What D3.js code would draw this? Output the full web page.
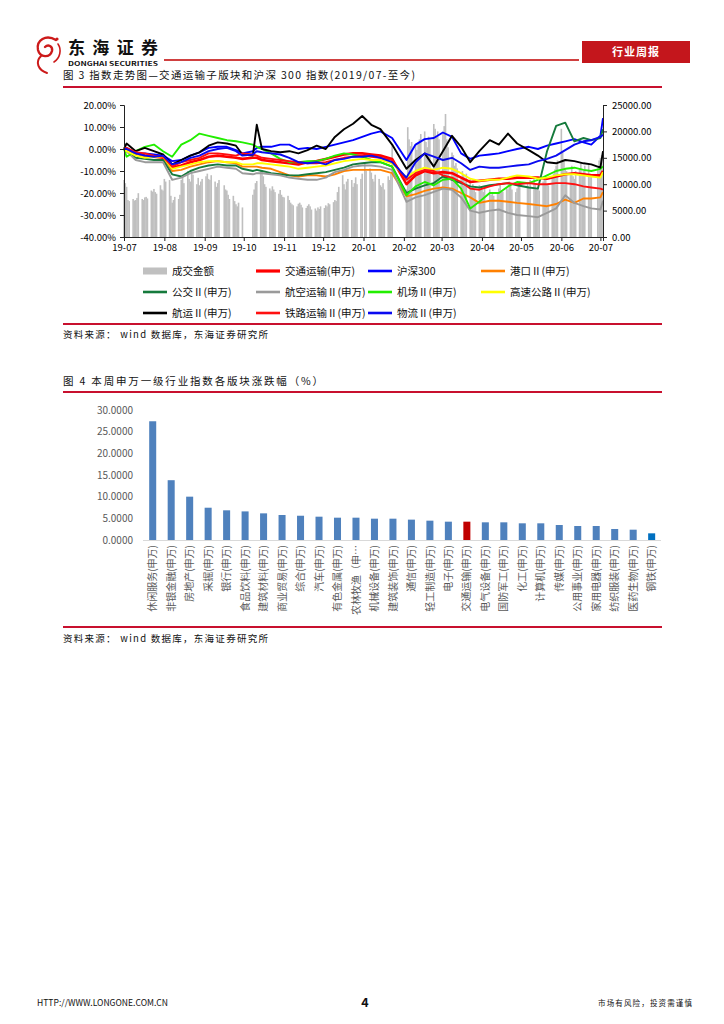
<!DOCTYPE html>
<html><head><meta charset="utf-8">
<script src="https://cdn.jsdelivr.net/npm/d3@7"></script>
<style>
body{margin:0;background:#fff;}
svg{display:block;}
text{font-family:"Noto Sans CJK SC","Liberation Sans",sans-serif;}
</style></head>
<body>
<svg id="page" width="724" height="1024"></svg>
<script>
// ================= DATA: Figure 3 =================
const lineDates = ["2019-07-01","2019-07-03","2019-07-10","2019-07-17","2019-07-24","2019-07-31","2019-08-07","2019-08-14","2019-08-21","2019-08-28","2019-09-04","2019-09-11","2019-09-18","2019-09-25","2019-09-30","2019-10-08","2019-10-11","2019-10-15","2019-10-22","2019-10-29","2019-11-05","2019-11-12","2019-11-19","2019-11-26","2019-12-03","2019-12-10","2019-12-17","2019-12-24","2019-12-31","2020-01-07","2020-01-14","2020-01-23","2020-02-03","2020-02-10","2020-02-17","2020-02-24","2020-03-02","2020-03-09","2020-03-16","2020-03-23","2020-03-30","2020-04-07","2020-04-14","2020-04-21","2020-04-28","2020-05-07","2020-05-14","2020-05-21","2020-05-28","2020-06-04","2020-06-11","2020-06-18","2020-06-24","2020-07-01","2020-07-03"];

const transport = [0,0,-2,-3,-3.5,-4,-8.5,-7.5,-6,-5,-3.5,-3,-3.5,-4,-4.5,-4,-4,-5,-5.5,-6,-6.5,-7,-6,-5.5,-4.5,-3.5,-2.5,-2,-2,-2.5,-3,-4.5,-16,-12,-10,-11,-10.5,-11,-13,-15,-14.5,-14,-13.5,-13.5,-13,-13,-13,-13.5,-12.5,-11.5,-11,-11.5,-12,-12,-10];
const hs300 = [0,0.5,-2,-2,-2.5,-3,-5.5,-5,-3,-1.5,0.5,1,1,-0.5,-2,-1,0.5,1,1,2,2,0,0.5,0,1,2,3,4,5.5,7,8,5,-5,2,4.5,5,7.5,5.5,-2,-4.5,-3,-2.5,-2,-1,0,1,0,1.5,2.5,3.5,4.5,3,2,6,14];
const port = [0,0,-2,-3.5,-3.5,-3.5,-10,-9.5,-8,-7,-6,-5.5,-6,-6.5,-8,-8,-8,-8.5,-9,-10.5,-12,-12.5,-12,-12,-12.5,-11.5,-10,-9.5,-9.5,-9.5,-9.5,-11,-21.5,-20.5,-19,-18,-17.5,-18,-20,-22,-24.5,-23.5,-23.5,-24,-24.5,-25,-25.5,-26,-25,-23,-24.5,-22.5,-22.5,-22,-19.5];
const bus = [0,-1,-4,-4.5,-5,-5,-11.5,-12.5,-10,-8.5,-7.5,-7,-7.5,-7.5,-9,-10,-9.5,-10,-11,-11.5,-12,-12,-11.5,-11,-10.5,-9.5,-8.5,-7,-6.5,-6,-6,-8,-20,-18,-16.5,-15.5,-12.5,-14,-15.5,-17,-17.5,-16.5,-16,-15.5,-16.5,-17.5,-18,-1,10.5,12,3.5,5,4,5,9];
const airline = [0,-1,-5,-6,-6,-6,-14,-13,-11,-10,-9,-8,-8.5,-9,-11,-11.5,-11,-11,-11.5,-12,-13,-13.5,-14,-14,-13,-10.5,-9.5,-8,-7.5,-7.5,-8,-9.5,-24,-22,-21,-19.5,-18,-18.5,-22,-28,-29,-28,-27.5,-29,-30,-30.5,-31,-29,-27,-21,-24.5,-26,-27,-27.5,-23.5];
const airport = [0,-3.5,-1,1,2,-1,-3.5,2,4,7,6,5,4,3.5,3,2,1,0,-2,-4.5,-6,-6,-5.5,-5.5,-4.5,-3,-2,-2.5,-3.5,-5,-6,-8,-21,-17,-15,-16.5,-14,-13.5,-18,-27,-24,-20,-20,-17,-15,-15.5,-14,-12,-10,-9,-8.5,-9.5,-10,-9,-8];
const highway = [0,-1,-3,-4,-3.5,-3.5,-9,-8,-7,-6,-5.5,-5.5,-6,-6,-7,-7,-6.5,-6.5,-7,-7.5,-8,-9,-8.5,-8,-7.5,-6.5,-5.5,-5,-4.5,-5,-5,-6.5,-13,-10,-8.5,-9.5,-8.5,-9,-11,-13.5,-14.5,-14,-14,-13,-12,-12.5,-13.5,-13,-12,-11.5,-11.5,-12,-12.5,-13,-10.5];
const shipping = [0,2.5,-1,0.5,-1,-2.5,-7,-5,-3,-1.5,1.5,3,2.5,1.5,-2.5,-3,11,0,-1,-1.5,-1,-2,-0.5,1.5,0,5.5,9,11.5,15,11,9,2,-9,-5,-2,-8,-1,6,1,-6,-1,4,2,7,2.5,-0.5,-3,-6,-6.5,-5,-5.5,-6.5,-7,-8.5,-1];
const railway = [0,0.5,-1.5,-2,-3,-3.5,-8,-6,-5,-4,-2,-2,-2.5,-3,-2,-2.5,-3,-4,-4.5,-5,-5.5,-6,-6.5,-6.5,-6,-5,-4,-3.5,-3,-3.5,-4,-5,-14,-11,-9.5,-10,-12,-13,-15,-18,-18.5,-17,-16,-15.5,-16,-15.5,-16,-16,-15.5,-15.5,-16,-17,-17.5,-18,-18.5];
const logistics = [0,0,-2,-3,-3.5,-3,-7,-6,-4,-3,-1,0,0.5,-1,-3,-2.5,-1,-1.5,-2,-2.5,-4,-6,-6.5,-6,-7,-5,-4.5,-3.5,-3.5,-3,-4,-6,-13,-6,-2,-3.5,-5,-4,-6.5,-9.5,-8,-8.5,-8.5,-8,-7.5,-7,-5.5,-4.5,-3,-0.5,2,3.5,4,5.5,6.5];

// daily turnover (成交金额), one value per trading day, Jul-2019 .. Jul-2020
const turnover = [
 10800,10200,9500,7000,6800,7200,6900,7000,7400,8300,7200,7000,7500,7600,7300,8800,8600,9100,8500,8200,9800,9000,8800,
 11000,10500,10800,7800,6500,7000,7600,7200,8000,10800,11500,10200,12500,11000,10500,12400,11800,10000,11200,9800,10500,11000,
 11500,12000,11000,10800,11700,10500,9500,10200,10800,9800,9000,8800,8000,7200,7800,6800,6200,5800,6500,5600,
 8000,9000,10200,10600,12700,12400,11500,10000,9500,9200,8800,9600,9000,8500,8200,8900,8000,7600,
 7500,7800,7000,6500,6200,6000,5800,6300,6500,6100,5600,5500,5900,6200,5800,5200,5400,5000,5600,5300,5800,
 5500,6000,5800,6400,6200,6600,7000,6800,8500,9500,11700,10000,9000,10500,11000,10800,9500,10200,11300,10000,11000,12000,
 14000,12500,13000,12200,11000,10500,11800,11000,9800,9500,10200,9000,11500,10800,12000,17500,
 9000,20800,18500,17200,18000,17500,16500,17800,18500,19500,20000,18000,17000,19000,18500,21400,20500,19000,20000,18500,
 19500,21000,23300,18500,17000,16000,15500,13500,14000,13000,11000,12500,11800,10500,12000,11000,9500,10000,9000,8500,9800,9200,
 9000,8500,9500,9000,8000,8200,7800,8500,9200,10000,8800,8600,9500,9000,10500,9800,9000,8500,9200,9800,10500,
 10200,9500,10800,11000,10000,9000,9500,8800,10500,11200,10800,10000,9800,11500,12000,12800,13500,14500,
 20500,16000,14500,13000,12500,12000,13500,11500,11000,12500,13000,14000,12000,12500,13500,14000,12000,11500,13000,14500,
 15000,15500,16000];
const holidays = ["2019-09-13","2019-10-01","2019-10-02","2019-10-03","2019-10-04","2019-10-07","2020-01-01","2020-01-24","2020-01-27","2020-01-28","2020-01-29","2020-01-30","2020-01-31","2020-04-06","2020-05-01","2020-05-04","2020-05-05","2020-06-25","2020-06-26"];

const leftTicks = [-40,-30,-20,-10,0,10,20];
const rightTicks = [0,5000,10000,15000,20000,25000];

// ================= DATA: Figure 4 =================
const industries = ["休闲服务(申万)","非银金融(申万)","房地产(申万)","采掘(申万)","银行(申万)","食品饮料(申万)","建筑材料(申万)","商业贸易(申万)","综合(申万)","汽车(申万)","有色金属(申万)","农林牧渔（申…","机械设备(申万)","建筑装饰(申万)","通信(申万)","轻工制造(申万)","电子(申万)","交通运输(申万)","电气设备(申万)","国防军工(申万)","化工(申万)","计算机(申万)","传媒(申万)","公用事业(申万)","家用电器(申万)","纺织服装(申万)","医药生物(申万)","钢铁(申万)"];
const weeklyChange = [27.4,13.8,10.0,7.45,6.85,6.6,6.15,5.77,5.6,5.38,5.15,5.15,4.92,4.92,4.7,4.46,4.23,4.23,4.08,4.08,3.85,3.85,3.46,3.23,3.23,2.54,2.38,1.54];
const barTicks = [0,5,10,15,20,25,30];

// ================= DRAW =================
const svg = d3.select("#page");
const parse = d3.timeParse("%Y-%m-%d");
const RED = "#c00000";
const SANS = "Liberation Sans, Arial, sans-serif";

// ---- header ----
const logo = svg.append("g").attr("fill","none").attr("stroke","#cc1a1a").attr("stroke-linecap","round");
logo.append("path").attr("d","M56,40 C46,34 36,40 38,50 C40,58 50,58 52,51 C53,46 48,44 45,47").attr("stroke-width",2.4);
logo.append("path").attr("d","M41,56 C35,62 38,70 47,73").attr("stroke-width",2);
logo.append("path").attr("d","M58,44 C62,50 60,58 54,62").attr("stroke-width",1.6);
logo.append("circle").attr("cx",57).attr("cy",39).attr("r",1.6).attr("fill","#cc1a1a").attr("stroke","none");

svg.append("text").attr("x",68).attr("y",54).text("东海证券")
  .attr("font-size",17).attr("font-weight","bold").attr("fill","#111")
  .attr("textLength",90).attr("lengthAdjust","spacing");
svg.append("text").attr("x",68).attr("y",66).text("DONGHAI SECURITIES")
  .attr("font-family",SANS).attr("font-size",6.2).attr("font-weight","bold").attr("fill","#111")
  .attr("textLength",90).attr("lengthAdjust","spacingAndGlyphs");
svg.append("line").attr("x1",164).attr("x2",579).attr("y1",60).attr("y2",60).attr("stroke",RED).attr("stroke-width",1.3);
svg.append("rect").attr("x",582).attr("y",41).attr("width",108).attr("height",22).attr("fill","#c4161c");
svg.append("text").attr("x",636).attr("y",56).attr("text-anchor","middle").text("行业周报")
  .attr("font-size",11).attr("font-weight","bold").attr("fill","#fff").attr("letter-spacing",1);

// ---- titles, rules, sources ----
function title(y, str, len){
  svg.append("text").attr("x",63).attr("y",y).text(str).attr("font-size",10.5).attr("fill","#111")
    .attr("textLength",len).attr("lengthAdjust","spacing");
}
function rule(y){
  svg.append("line").attr("x1",63).attr("x2",662).attr("y1",y).attr("y2",y).attr("stroke","#c8102e").attr("stroke-width",2);
}
function source(y){
  svg.append("text").attr("x",63).attr("y",y).text("资料来源：  wind 数据库，东海证券研究所")
    .attr("font-size",9.5).attr("fill","#111").attr("textLength",205).attr("lengthAdjust","spacing");
}
title(79, "图 3   指数走势图—交通运输子版块和沪深 300 指数(2019/07-至今)", 352);
rule(87);
rule(324);
source(338);
title(385, "图 4   本周申万一级行业指数各版块涨跌幅（%）", 260);
rule(392);
rule(627);
source(642);

// ---- Figure 3 ----
const x = d3.scaleTime().domain([parse("2019-07-01"), parse("2020-07-03")]).range([124, 603]);
const yL = d3.scaleLinear().domain([-40, 20]).range([237, 105]);
const yR = d3.scaleLinear().domain([0, 25000]).range([237, 105]);

const holidaySet = new Set(holidays);
const fmt = d3.timeFormat("%Y-%m-%d");
const tradingDays = d3.timeDay.range(parse("2019-07-01"), parse("2020-07-04"))
  .filter(d => d.getDay() > 0 && d.getDay() < 6 && !holidaySet.has(fmt(d)));
const barData = tradingDays.slice(0, turnover.length).map((d,i) => ({d, v: turnover[i]}));

const g1 = svg.append("g");
g1.selectAll("rect.vol").data(barData).join("rect").attr("class","vol")
  .attr("x", d => x(d.d) - 0.8).attr("width", 1.6)
  .attr("y", d => yR(d.v)).attr("height", d => yR(0) - yR(d.v))
  .attr("fill", "#bfbfbf");

const dates = lineDates.map(parse);
const seriesList = [
  {name:"交通运输(申万)", values:transport, color:"#ff0000", w:2.6},
  {name:"沪深300", values:hs300, color:"#0000ff", w:1.9},
  {name:"港口Ⅱ(申万)", values:port, color:"#ff8000", w:1.9},
  {name:"公交Ⅱ(申万)", values:bus, color:"#157a3c", w:1.9},
  {name:"航空运输Ⅱ(申万)", values:airline, color:"#9a9a9a", w:1.9},
  {name:"机场Ⅱ(申万)", values:airport, color:"#22ee00", w:1.9},
  {name:"高速公路Ⅱ(申万)", values:highway, color:"#ffff00", w:1.9},
  {name:"航运Ⅱ(申万)", values:shipping, color:"#000000", w:1.9},
  {name:"铁路运输Ⅱ(申万)", values:railway, color:"#ff1010", w:1.9},
  {name:"物流Ⅱ(申万)", values:logistics, color:"#0a0af0", w:1.9}
];
const line = d3.line().x((v,i) => x(dates[i])).y(v => yL(v));
seriesList.forEach(s => {
  g1.append("path").attr("d", line(s.values)).attr("fill","none")
    .attr("stroke", s.color).attr("stroke-width", s.w).attr("stroke-linejoin","round");
});

// axes
const axL = d3.axisLeft(yL).tickValues(leftTicks).tickFormat(d => d.toFixed(2) + "%").tickSize(4).tickPadding(4);
const axR = d3.axisRight(yR).tickValues(rightTicks).tickFormat(d => d.toFixed(2)).tickSize(4).tickPadding(5);
const axB = d3.axisBottom(x).ticks(d3.timeMonth.every(1)).tickFormat(d3.timeFormat("%y-%m")).tickSize(4).tickPadding(3);
function styleAxis(sel){
  sel.selectAll("text").attr("font-family",SANS).attr("font-size",9.5).attr("fill","#000");
  sel.selectAll("path,line").attr("stroke","#222");
}
svg.append("g").attr("transform","translate(124,0)").call(axL).call(styleAxis);
svg.append("g").attr("transform","translate(603,0)").call(axR).call(styleAxis);
svg.append("g").attr("transform","translate(0,237)").call(axB).call(styleAxis);

// legend
const legendItems = [
  {name:"成交金额", color:"#c0c0c0", bar:true},
  seriesList[0], seriesList[1], seriesList[2],
  seriesList[3], seriesList[4], seriesList[5], seriesList[6],
  seriesList[7], seriesList[8], seriesList[9]
];
const legCols = [143, 256, 368, 481];
const legRows = [271, 292, 313];
legendItems.forEach((it, i) => {
  const cx = legCols[i % 4], cy = legRows[Math.floor(i / 4)];
  if (it.bar) {
    svg.append("rect").attr("x",cx).attr("y",cy-3.5).attr("width",24).attr("height",7).attr("fill",it.color);
  } else {
    svg.append("line").attr("x1",cx).attr("x2",cx+24).attr("y1",cy).attr("y2",cy)
      .attr("stroke",it.color).attr("stroke-width", it.w > 2 ? 3.2 : 2.6);
  }
  svg.append("text").attr("x",cx+29).attr("y",cy+4).text(it.name).attr("font-size",10.5).attr("fill","#111");
});

// ---- Figure 4 ----
const xb = d3.scaleBand().domain(industries).range([143.46, 660.9]).paddingInner(0.62).paddingOuter(0.31);
const yb = d3.scaleLinear().domain([0, 30]).range([540, 410]);
const g2 = svg.append("g");
g2.selectAll("rect.ind").data(industries).join("rect").attr("class","ind")
  .attr("x", d => xb(d)).attr("width", xb.bandwidth())
  .attr("y", (d,i) => yb(weeklyChange[i])).attr("height", (d,i) => yb(0) - yb(weeklyChange[i]))
  .attr("fill", d => d === "交通运输(申万)" ? "#c00000" : (d === "钢铁(申万)" ? "#0070c0" : "#4f81bd"));
svg.append("line").attr("x1",143).attr("x2",661).attr("y1",540.5).attr("y2",540.5).attr("stroke","#d9d9d9").attr("stroke-width",1);
const axY2 = d3.axisLeft(yb).tickValues(barTicks).tickFormat(d => d.toFixed(4)).tickSize(0).tickPadding(10);
const gy2 = svg.append("g").attr("transform","translate(143,0)").call(axY2);
gy2.select(".domain").remove();
gy2.selectAll("text").attr("font-family",SANS).attr("font-size",10).attr("fill","#595959");
g2.selectAll("text.cat").data(industries).join("text").attr("class","cat")
  .attr("transform", d => `translate(${xb(d) + xb.bandwidth()/2},545) rotate(-90)`)
  .attr("text-anchor","end").attr("dy","0.36em")
  .attr("font-size",10).attr("fill","#595959").text(d => d);

// ---- footer ----
svg.append("text").attr("x",37).attr("y",1006).text("HTTP://WWW.LONGONE.COM.CN")
  .attr("font-family",SANS).attr("font-size",8.5).attr("fill","#111").attr("textLength",131).attr("lengthAdjust","spacingAndGlyphs");
svg.append("text").attr("x",365).attr("y",1007).attr("text-anchor","middle").text("4")
  .attr("font-family","Liberation Serif, serif").attr("font-size",12.5).attr("font-weight","bold").attr("fill","#111");
svg.append("text").attr("x",598).attr("y",1006).text("市场有风险，投资需谨慎")
  .attr("font-size",7.5).attr("fill","#111").attr("textLength",94).attr("lengthAdjust","spacing");
</script>
</body></html>
